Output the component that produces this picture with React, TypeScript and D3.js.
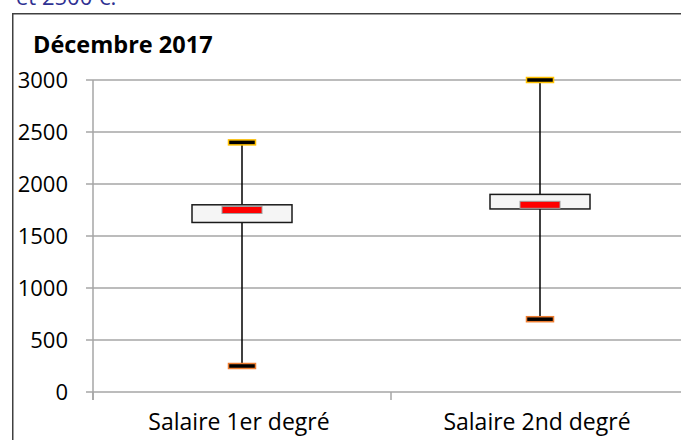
import React from "react";
import * as d3 from "d3";

const categories = ["Salaire 1er degré", "Salaire 2nd degré"];
const maxVals = [2400, 3000];
const q3Vals = [1800, 1900];
const medianVals = [1750, 1800];
const q1Vals = [1630, 1760];
const minVals = [250, 700];
const yTicks = [0, 500, 1000, 1500, 2000, 2500, 3000];
const title = "Décembre 2017";
const topNote = "et 2500 €.";

const FONT = "'Open Sans', 'DejaVu Sans', sans-serif";

export default function App() {
  const W = 681, H = 440;
  const y = d3.scaleLinear().domain([0, 3000]).range([392, 80]);
  const x = d3.scaleBand<string>().domain(categories).range([93, 689]).padding(0);
  const bw = x.bandwidth();
  const catTicks = [93, ...categories.map((c) => (x(c) as number) + bw)];

  return (
    <svg
      width={W}
      height={H}
      style={{ position: "fixed", left: 0, top: 0, background: "#fff", overflow: "hidden" }}
      fontFamily={FONT}
    >
      <rect x={0} y={0} width={W} height={H} fill="#fff" />
      <text x={16} y={5} fontSize={22} fill="#2E3192" fontFamily={FONT}>
        {topNote}
      </text>
      {/* chart border (left and top edges; right/bottom are outside the view) */}
      <path d={`M12.75,${H + 10}V13.75H${W + 10}`} fill="none" stroke="#404040" strokeWidth={1.5} />
      <text x={33} y={53} fontSize={23.5} fontWeight="bold" fill="#000">
        {title}
      </text>
      {/* gridlines */}
      {yTicks.map((t) => (
        <g key={t}>
          {t > 0 && (
            <line x1={93} x2={W} y1={y(t)} y2={y(t)} stroke="#A6A6A6" strokeWidth={1.5} />
          )}
          <line x1={86} x2={93} y1={y(t)} y2={y(t)} stroke="#A6A6A6" strokeWidth={1.5} />
          <text x={68} y={y(t)} dy="0.36em" textAnchor="end" fontSize={22} fill="#000">
            {t}
          </text>
        </g>
      ))}
      {/* axes */}
      <line x1={93} x2={93} y1={y(3000)} y2={400} stroke="#A6A6A6" strokeWidth={1.5} />
      <line x1={93} x2={W} y1={y(0)} y2={y(0)} stroke="#A6A6A6" strokeWidth={1.5} />
      {catTicks.map((cx, i) => (
        <line key={i} x1={cx} x2={cx} y1={y(0)} y2={400} stroke="#A6A6A6" strokeWidth={1.5} />
      ))}
      {categories.map((c) => (
        <text key={c} x={(x(c) as number) + bw / 2 - 3} y={430} textAnchor="middle" fontSize={23} fill="#000">
          {c}
        </text>
      ))}
      {/* boxes */}
      {categories.map((c, i) => {
        const cx = (x(c) as number) + bw / 2;
        return (
          <g key={c}>
            <line x1={cx} x2={cx} y1={y(maxVals[i])} y2={y(minVals[i])} stroke="#000" strokeWidth={1.5} />
            <rect
              x={cx - 50}
              y={y(q3Vals[i])}
              width={100}
              height={y(q1Vals[i]) - y(q3Vals[i])}
              fill="#F5F5F5"
              stroke="#1a1a1a"
              strokeWidth={1.5}
            />
            <rect
              x={cx - 20}
              y={y(medianVals[i]) - 3.5}
              width={40}
              height={7}
              fill="#FF0000"
              stroke="#A0A0A0"
              strokeWidth={1}
            />
            <rect
              x={cx - 13.5}
              y={y(maxVals[i]) - 2.5}
              width={27}
              height={5}
              fill="#000"
              stroke="#FFC000"
              strokeWidth={1.5}
            />
            <rect
              x={cx - 13.5}
              y={y(minVals[i]) - 2.5}
              width={27}
              height={5}
              fill="#000"
              stroke="#ED7D31"
              strokeWidth={1.5}
            />
          </g>
        );
      })}
    </svg>
  );
}
